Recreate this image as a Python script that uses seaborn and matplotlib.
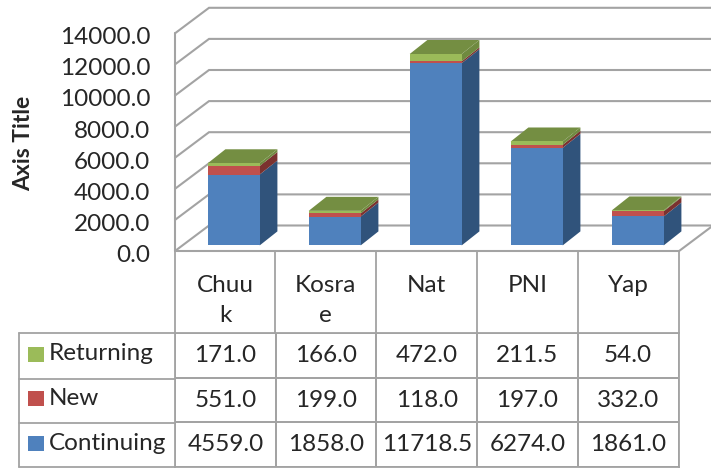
import numpy as np
import pandas as pd
import seaborn as sns
import matplotlib.pyplot as plt
from matplotlib.colors import ListedColormap

categories = ["Chuuk", "Kosrae", "Nat", "PNI", "Yap"]
category_labels = ["Chuu\nk", "Kosra\ne", "Nat", "PNI", "Yap"]
continuing = [4559.0, 1858.0, 11718.5, 6274.0, 1861.0]
new = [551.0, 199.0, 118.0, 197.0, 332.0]
returning = [171.0, 166.0, 472.0, 211.5, 54.0]
y_ticks = [0, 2000, 4000, 6000, 8000, 10000, 12000, 14000]

GRID = "#A3A3A3"
TEXT = "#262626"
FONT = 17.5


def main():
    sns.set_style("white")
    plt.rcParams["font.family"] = ["Lato", "DejaVu Sans"]

    fig = plt.figure(figsize=(7.11, 4.68), dpi=100)

    # chart axes cover the whole figure, 101 px per category, 31.1 px per 2000
    ax = fig.add_axes([0, 0, 1, 1], facecolor="none")
    k = 2000 / 31.1
    xlim = (-233.7 / 101, (711 - 233.7) / 101)
    ylim = ((245.4 - 468) * k, 245.4 * k)

    # bar depth and wall depth
    dx, dy = 17.7 / 101, 14 * k
    wall_dx, wall_dy = 34 / 101, 25.5 * k
    wall_x, wall_r, wall_y = -0.581, 4.41, -360

    # back wall, side wall, floor
    for t in y_ticks:
        y = wall_y + t
        ax.plot([wall_x, wall_x + wall_dx, xlim[1]], [y, y + wall_dy, y + wall_dy],
                color=GRID, lw=1.5, zorder=0.5, solid_joinstyle="miter")
    ax.plot([wall_x, wall_x], [wall_y, wall_y + y_ticks[-1]], color=GRID, lw=1.5, zorder=0.5)
    ax.plot([wall_x, wall_r, wall_r + wall_dx], [wall_y, wall_y, wall_y + wall_dy],
            color=GRID, lw=1.5, zorder=0.5)

    df = pd.DataFrame({"category": categories, "Continuing": continuing,
                       "New": new, "Returning": returning})
    series = [("Continuing", "#4F81BD", "#30537B"),
              ("New", "#C0504D", "#7B322F"),
              ("Returning", "#9BBB59", "#6F8A3F")]
    bottom = np.zeros(len(df))
    for name, front, side in series:
        n_before = len(ax.patches)
        sns.barplot(data=df, x="category", y=name, color=front, saturation=1,
                    width=0.515, bottom=bottom, linewidth=0, ax=ax, zorder=2)
        for bar in ax.patches[n_before:]:
            x0 = bar.get_x()
            x1 = x0 + bar.get_width()
            y0 = bar.get_y()
            y1 = y0 + bar.get_height()
            ax.fill([x1, x1 + dx, x1 + dx, x1], [y0, y0 + dy, y1 + dy, y1],
                    color=side, lw=0, zorder=1.5)
            if name == "Returning":
                ax.fill([x0, x1, x1 + dx, x0 + dx], [y1, y1, y1 + dy, y1 + dy],
                        color="#748E42", lw=0, zorder=1.5)
        bottom = bottom + df[name].values

    for t in y_ticks:
        ax.text(wall_x - 0.245, wall_y + t - 4.5 * k, f"{t:.1f}", ha="right", va="center",
                fontsize=FONT, color=TEXT)

    ax.set_xlim(xlim)
    ax.set_ylim(ylim)
    ax.set_xlabel("")
    ax.set_ylabel("")
    ax.set_xticks([])
    ax.set_yticks([])
    sns.despine(ax=ax, left=True, bottom=True)

    # data table cells
    ax_t = fig.add_axes([175 / 711, 1 - 467 / 468, (678.5 - 175) / 711, (467 - 333.3) / 468])
    table = pd.DataFrame([returning, new, continuing], columns=categories,
                         index=["Returning", "New", "Continuing"])
    sns.heatmap(table, annot=True, fmt=".1f", cmap=ListedColormap(["white"]), cbar=False,
                linewidths=1.3, linecolor=GRID, xticklabels=False, yticklabels=False,
                annot_kws={"size": FONT, "color": TEXT}, ax=ax_t)
    ax_t.set_xlabel("")
    ax_t.set_ylabel("")
    for s in ax_t.spines.values():
        s.set_visible(True)
        s.set_color(GRID)
        s.set_linewidth(1.3)

    # header row and legend column, in pixel coordinates
    ax_p = fig.add_axes([0, 0, 1, 1], facecolor="none")
    ax_p.set_xlim(0, 711)
    ax_p.set_ylim(468, 0)
    ax_p.axis("off")
    col_edges = [175, 275.3, 376, 477.3, 578.3, 678.5]
    for xe in col_edges:
        ax_p.plot([xe, xe], [251, 333.3], color=GRID, lw=1.3)
    row_edges = [333.3, 378.7, 423, 467]
    for ye in row_edges:
        ax_p.plot([19, 175], [ye, ye], color=GRID, lw=1.3)
    ax_p.plot([19, 19], [333.3, 467], color=GRID, lw=1.3)

    for i, lab in enumerate(category_labels):
        ax_p.text((col_edges[i] + col_edges[i + 1]) / 2, 275, lab, ha="center", va="top",
                  fontsize=FONT, color=TEXT, linespacing=1.55)

    legend_rows = [("Returning", "#9BBB59"), ("New", "#C0504D"), ("Continuing", "#4F81BD")]
    for i, (name, col) in enumerate(legend_rows):
        yc = (row_edges[i] + row_edges[i + 1]) / 2 - 2
        ax_p.fill([28, 43.5, 43.5, 28], [yc - 7.5, yc - 7.5, yc + 7.5, yc + 7.5], color=col, lw=0)
        ax_p.text(49, yc, name, ha="left", va="center", fontsize=FONT, color=TEXT)

    ax_p.text(24, 143, "Axis Title", rotation=90, ha="center", va="center",
              fontsize=16.5, fontweight="bold", color=TEXT)

    fig.savefig("out.png", dpi=100)
    plt.close(fig)


if __name__ == "__main__":
    main()
